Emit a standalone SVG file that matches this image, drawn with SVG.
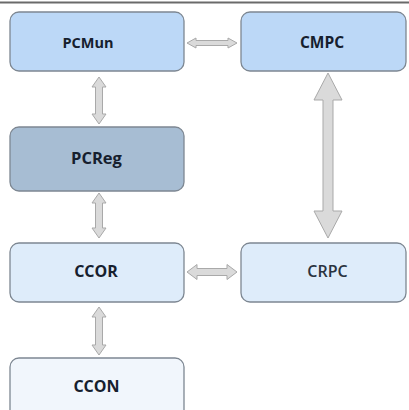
<svg xmlns="http://www.w3.org/2000/svg" width="409" height="410" viewBox="0 0 409 410">
  <style>
    .box { stroke: #7d8792; stroke-width: 1.3; }
    .mid { fill: #bcd8f7; }
    .reg { fill: #a7bdd3; }
    .low { fill: #deecfa; }
    .base { fill: #f1f6fc; }
    .lbl { font-family: "Open Sans", "Liberation Sans", sans-serif; font-weight: bold; fill: #16202e; text-anchor: middle; }
    .plain { font-weight: 600; fill: #2a3340; }
    .arr { fill: #dadada; stroke: #a9a9a9; stroke-width: 1; stroke-linejoin: round; }
  </style>
  <rect width="409" height="410" fill="#ffffff"/>
  <line x1="0" y1="2.5" x2="409" y2="2.5" stroke="#6a6a6a" stroke-width="2"/>

  <g id="connectors">
    <!-- PCMun <-> CMPC -->
    <polygon class="arr" points="187,43 196,38 196,40.5 228,40.5 228,38 237,43 228,48 228,45.5 196,45.5 196,48"/>
    <!-- PCMun <-> PCReg -->
    <polygon class="arr" points="99,77 106,87 102.5,87 102.5,114 106,114 99,124 92,114 95.5,114 95.5,87 92,87"/>
    <!-- PCReg <-> CCOR -->
    <polygon class="arr" points="99,193 106,203 102.5,203 102.5,228 106,228 99,238 92,228 95.5,228 95.5,203 92,203"/>
    <!-- CCOR <-> CCON -->
    <polygon class="arr" points="99,307 106,317 102.5,317 102.5,345 106,345 99,355 92,345 95.5,345 95.5,317 92,317"/>
    <!-- CCOR <-> CRPC -->
    <polygon class="arr" points="187,272 197,264.5 197,268.5 227,268.5 227,264.5 237,272 227,279.5 227,275.5 197,275.5 197,279.5"/>
    <!-- CMPC <-> CRPC -->
    <polygon class="arr" points="328,73 342,100 333,100 333,211 342,211 328,238 314,211 323,211 323,100 314,100"/>
  </g>

  <g id="PCMun">
    <rect class="box mid" x="10" y="12" width="174" height="59" rx="9"/>
    <text class="lbl" x="88" y="48" font-size="14.5">PCMun</text>
  </g>
  <g id="CMPC">
    <rect class="box mid" x="241" y="12" width="165" height="59" rx="9"/>
    <text class="lbl" x="322" y="48" font-size="15.5">CMPC</text>
  </g>
  <g id="PCReg">
    <rect class="box reg" x="10" y="127" width="174" height="64" rx="9"/>
    <text class="lbl" x="96.5" y="163.5" font-size="16.5">PCReg</text>
  </g>
  <g id="CCOR">
    <rect class="box low" x="10" y="243" width="174" height="59" rx="9"/>
    <text class="lbl" x="96" y="277" font-size="16">CCOR</text>
  </g>
  <g id="CRPC">
    <rect class="box low" x="241" y="243" width="165" height="59" rx="9"/>
    <text class="lbl plain" x="327.5" y="277" font-size="16">CRPC</text>
  </g>
  <g id="CCON">
    <rect class="box base" x="10" y="358" width="174" height="70" rx="9"/>
    <text class="lbl" x="96.5" y="392" font-size="16">CCON</text>
  </g>
</svg>
